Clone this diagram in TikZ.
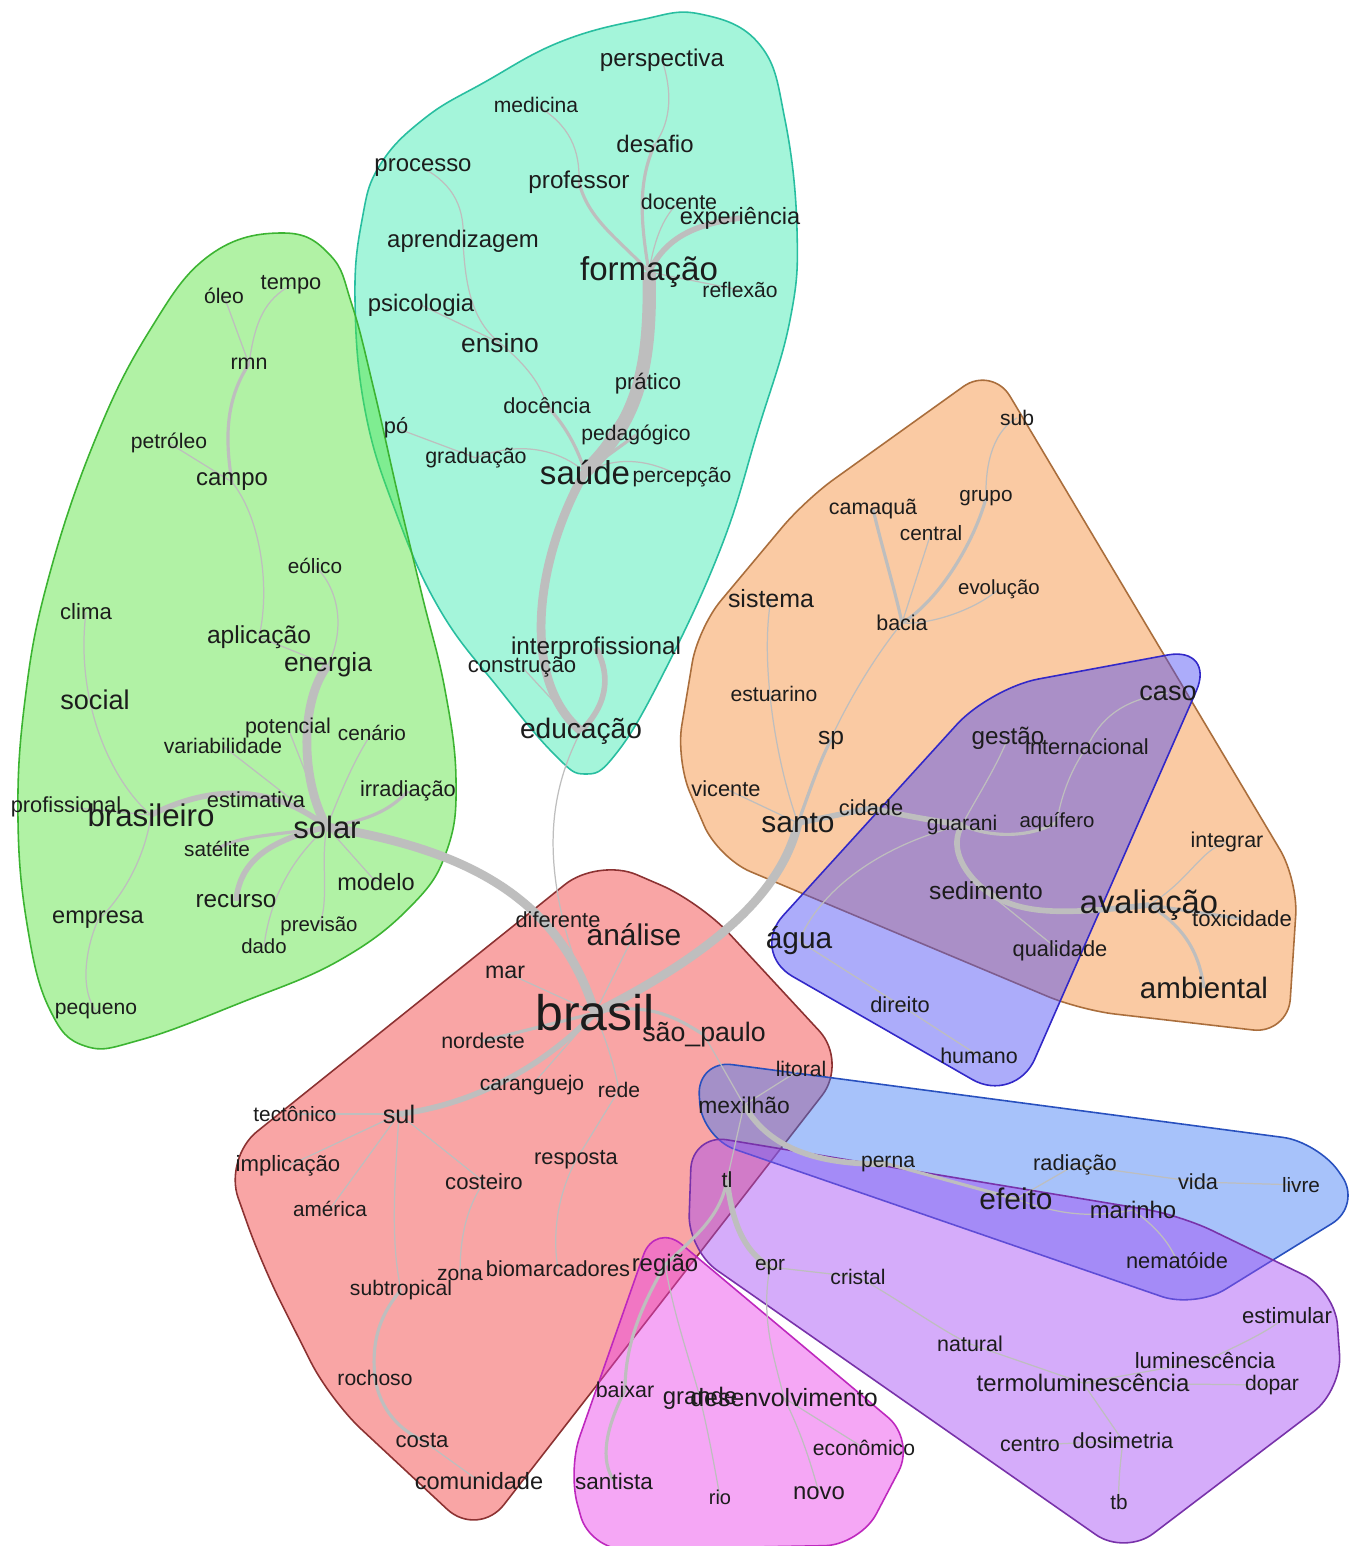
\documentclass[tikz,border=0pt]{standalone}
\usepackage{fontspec}
\setmainfont{Liberation Sans}
\definecolor{wordcol}{HTML}{1C1C1C}
\definecolor{edgecol}{HTML}{BEBEBE}
\definecolor{tealfill}{RGB}{55,233,173}
\definecolor{tealline}{RGB}{40,190,160}
\definecolor{greenfill}{RGB}{84,228,57}
\definecolor{greenline}{RGB}{60,180,50}
\definecolor{orangefill}{RGB}{244,139,53}
\definecolor{orangeline}{RGB}{170,110,60}
\definecolor{redfill}{RGB}{242,57,57}
\definecolor{redline}{RGB}{140,50,50}
\definecolor{aguafill}{RGB}{73,73,244}
\definecolor{agualine}{RGB}{50,40,200}
\definecolor{efeitofill}{RGB}{62,120,244}
\definecolor{efeitoline}{RGB}{40,80,190}
\definecolor{violetfill}{RGB}{162,73,244}
\definecolor{violetline}{RGB}{120,50,170}
\definecolor{magentafill}{RGB}{233,62,233}
\definecolor{magentaline}{RGB}{190,40,190}
\pgfdeclarelayer{hulls}
\pgfdeclarelayer{edges}
\pgfsetlayers{hulls,edges,main}

\begin{document}
\begin{tikzpicture}[x=0.01cm, y=-0.01cm,
    word/.style={font=\fontsize{#1pt}{#1pt}\selectfont, text=wordcol, inner sep=0pt},
    hull/.style={fill opacity=0.45, line width=0.45pt},
    roundhull/.style={hull, rounded corners=10pt},
    e1/.style={draw=edgecol, line width=0.35pt},
    e2/.style={draw=edgecol, line width=0.9pt},
    e3/.style={draw=edgecol, line width=1.6pt},
    e4/.style={draw=edgecol, line width=2.5pt},
    e5/.style={draw=edgecol, line width=3.8pt}]
    \useasboundingbox (0,0) rectangle (1354,1546);

    % Hulls
    \begin{pgfonlayer}{hulls}
        \fill[white] (0,0) rectangle (1354,1546);
        \draw[hull, fill=tealfill, draw=tealline] plot[smooth cycle, tension=0.7] coordinates {(700,14) (760,45) (785,120) (797,230) (790,320) (758,430) (720,550) (660,680) (615,755) (585,774) (555,755) (500,690) (440,610) (395,510) (365,410) (355,300) (362,220) (380,165) (425,118) (485,82) (560,42) (640,20)};
        \draw[hull, fill=greenfill, draw=greenline] plot[smooth cycle, tension=0.7] coordinates {(283,233) (330,255) (352,305) (374,390) (398,495) (422,595) (445,690) (456,780) (447,850) (412,905) (340,960) (240,1003) (140,1040) (85,1046) (50,1010) (28,930) (18,820) (25,700) (48,580) (95,440) (150,330) (210,255)};
        \draw[roundhull, fill=orangefill, draw=orangeline] (992,366) -- (1298,880) -- (1288,1034) -- (1080,1010) -- (718,858) -- (676,760) -- (698,628) -- (805,500) -- cycle;
        \draw[roundhull, fill=redfill, draw=redline, rounded corners=12pt] (598,858) -- (700,902) -- (848,1062) -- (478,1538) -- (330,1400) -- (262,1265) -- (224,1158) -- cycle;
        \draw[roundhull, fill=aguafill, draw=agualine, rounded corners=14pt] (750,952) -- (990,688) -- (1216,646) -- (1015,1104) -- cycle;
        \draw[roundhull, fill=efeitofill, draw=efeitoline] (697,1060) -- (1318,1142) -- (1362,1205) -- (1195,1308) -- (702,1138) -- cycle;
        \draw[roundhull, fill=violetfill, draw=violetline] (692,1134) -- (1180,1215) -- (1335,1290) -- (1342,1390) -- (1125,1555) -- (688,1250) -- cycle;
        \draw[roundhull, fill=magentafill, draw=magentaline] (655,1222) -- (915,1440) -- (860,1545) -- (590,1550) -- (568,1470) -- cycle;
    \end{pgfonlayer}

    % Formacao / saude
    \node[word=6.9] (perspectiva) at (662,60) {perspectiva};
    \node[word=6.0] (medicina) at (536,105) {medicina};
    \node[word=6.8] (desafio) at (655,144) {desafio};
    \node[word=6.8] (processo) at (423,168) {processo};
    \node[word=6.9] (professor) at (579,182) {professor};
    \node[word=6.1] (docente) at (679,202) {docente};
    \node[word=6.7] (experiencia) at (740,218) {experiência};
    \node[word=6.8] (aprendizagem) at (463,241) {aprendizagem};
    \node[word=9.4] (formacao) at (649,272) {formação};
    \node[word=6.0] (reflexao) at (740,290) {reflexão};
    \node[word=6.8] (psicologia) at (421,305) {psicologia};
    \node[word=7.5] (ensino) at (500,343) {ensino};
    \node[word=6.3] (pratico) at (648,384) {prático};
    \node[word=6.2] (docencia) at (547,406) {docência};
    \node[word=6.2] (po) at (396,428) {pó};
    \node[word=6.0] (pedagogico) at (636,435) {pedagógico};
    \node[word=6.1] (graduacao) at (476,458) {graduação};
    \node[word=9.4] (saude) at (585,472) {saúde};
    \node[word=6.0] (percepcao) at (682,477) {percepção};
    \node[word=6.9] (interprofissional) at (596,648) {interprofissional};
    \node[word=6.3] (construcao) at (522,667) {construção};
    \node[word=8.0] (educacao) at (581,731) {educação};

    % Solar
    \node[word=6.0] (oleo) at (224,296) {óleo};
    \node[word=6.2] (tempo) at (291,285) {tempo};
    \node[word=6.1] (rmn) at (249,364) {rmn};
    \node[word=6.0] (petroleo) at (169,443) {petróleo};
    \node[word=6.8] (campo) at (232,482) {campo};
    \node[word=5.9] (eolico) at (315,566) {eólico};
    \node[word=6.3] (clima) at (86,612) {clima};
    \node[word=7.0] (aplicacao) at (259,637) {aplicação};
    \node[word=7.5] (energia) at (328,665) {energia};
    \node[word=7.7] (social) at (95,700) {social};
    \node[word=6.1] (potencial) at (288,728) {potencial};
    \node[word=5.9] (cenario) at (372,733) {cenário};
    \node[word=6.0] (variabilidade) at (223,746) {variabilidade};
    \node[word=6.2] (irradiacao) at (408,791) {irradiação};
    \node[word=6.2] (estimativa) at (256,800) {estimativa};
    \node[word=6.2] (profissional) at (66,807) {profissional};
    \node[word=8.9] (brasileiro) at (151,815) {brasileiro};
    \node[word=8.8] (solar) at (327,827) {solar};
    \node[word=5.9] (satelite) at (217,849) {satélite};
    \node[word=6.7] (modelo) at (376,882) {modelo};
    \node[word=6.9] (recurso) at (236,901) {recurso};
    \node[word=6.7] (empresa) at (98,920) {empresa};
    \node[word=5.8] (previsao) at (319,926) {previsão};
    \node[word=5.8] (dado) at (264,946) {dado};
    \node[word=6.0] (pequeno) at (96,1011) {pequeno};

    % Santo / avaliacao
    \node[word=6.0] (sub) at (1017,418) {sub};
    \node[word=6.1] (camaqua) at (873,509) {camaquã};
    \node[word=5.9] (grupo) at (986,498) {grupo};
    \node[word=5.9] (central) at (931,533) {central};
    \node[word=5.8] (evolucao) at (999,589) {evolução};
    \node[word=7.1] (sistema) at (771,599) {sistema};
    \node[word=6.1] (bacia) at (902,623) {bacia};
    \node[word=6.0] (estuarino) at (774,694) {estuarino};
    \node[word=7.0] (sp) at (831,740) {sp};
    \node[word=6.2] (vicente) at (726,789) {vicente};
    \node[word=8.5] (santo) at (798,823) {santo};
    \node[word=6.2] (cidade) at (871,808) {cidade};
    \node[word=6.0] (guarani) at (962,825) {guarani};
    \node[word=5.8] (aquifero) at (1057,822) {aquífero};
    \node[word=6.1] (integrar) at (1227,842) {integrar};
    \node[word=7.0] (sedimento) at (986,891) {sedimento};
    \node[word=9.3] (avaliacao) at (1149,905) {avaliação};
    \node[word=6.3] (toxicidade) at (1242,919) {toxicidade};
    \node[word=6.2] (qualidade) at (1060,951) {qualidade};
    \node[word=8.4] (ambiental) at (1204,988) {ambiental};

    % Agua
    \node[word=7.7] (caso) at (1168,693) {caso};
    \node[word=6.9] (gestao) at (1008,738) {gestão};
    \node[word=6.2] (internacional) at (1087,747) {internacional};
    \node[word=8.5] (agua) at (799,941) {água};
    \node[word=6.2] (direito) at (900,1005) {direito};
    \node[word=6.1] (humano) at (979,1056) {humano};

    % Brasil
    \node[word=6.2] (diferente) at (558,920) {diferente};
    \node[word=8.5] (analise) at (634,935) {análise};
    \node[word=6.6] (mar) at (505,972) {mar};
    \node[word=14.2] (brasil) at (595,1013) {brasil};
    \node[word=6.1] (nordeste) at (483,1041) {nordeste};
    \node[word=7.6] (saopaulo) at (704,1035) {são\_paulo};
    \node[word=6.0] (caranguejo) at (532,1085) {caranguejo};
    \node[word=6.0] (rede) at (619,1090) {rede};
    \node[word=5.9] (tectonico) at (295,1114) {tectônico};
    \node[word=7.2] (sul) at (399,1114) {sul};
    \node[word=6.3] (implicacao) at (288,1166) {implicação};
    \node[word=6.2] (resposta) at (576,1160) {resposta};
    \node[word=6.3] (costeiro) at (484,1182) {costeiro};
    \node[word=5.9] (america) at (330,1209) {américa};
    \node[word=6.0] (zona) at (460,1275) {zona};
    \node[word=6.2] (biomarcadores) at (558,1269) {biomarcadores};
    \node[word=6.0] (subtropical) at (401,1290) {subtropical};
    \node[word=6.0] (rochoso) at (375,1378) {rochoso};
    \node[word=6.3] (costa) at (422,1440) {costa};
    \node[word=6.7] (comunidade) at (479,1481) {comunidade};

    % Efeito
    \node[word=6.0] (litoral) at (801,1069) {litoral};
    \node[word=6.5] (mexilhao) at (744,1105) {mexilhão};
    \node[word=6.0] (perna) at (888,1164) {perna};
    \node[word=6.2] (radiacao) at (1075,1165) {radiação};
    \node[word=6.2] (vida) at (1198,1182) {vida};
    \node[word=5.9] (livre) at (1301,1185) {livre};
    \node[word=8.5] (efeito) at (1016,1199) {efeito};
    \node[word=6.8] (marinho) at (1133,1210) {marinho};
    \node[word=6.2] (nematoide) at (1177,1261) {nematóide};

    % Termoluminescencia
    \node[word=6.2] (tl) at (727,1180) {tl};
    \node[word=5.9] (epr) at (770,1267) {epr};
    \node[word=6.0] (cristal) at (858,1277) {cristal};
    \node[word=6.3] (estimular) at (1287,1316) {estimular};
    \node[word=6.1] (natural) at (970,1344) {natural};
    \node[word=6.3] (luminescencia) at (1205,1361) {luminescência};
    \node[word=6.8] (termoluminescencia) at (1083,1383) {termoluminescência};
    \node[word=6.0] (dopar) at (1272,1385) {dopar};
    \node[word=6.1] (centro) at (1030,1445) {centro};
    \node[word=6.2] (dosimetria) at (1123,1441) {dosimetria};
    \node[word=5.9] (tb) at (1119,1502) {tb};

    % Regiao
    \node[word=6.8] (regiao) at (665,1265) {região};
    \node[word=6.1] (baixar) at (625,1390) {baixar};
    \node[word=6.8] (grande) at (700,1398) {grande};
    \node[word=7.1] (desenvolvimento) at (784,1398) {desenvolvimento};
    \node[word=6.0] (economico) at (864,1448) {econômico};
    \node[word=6.4] (santista) at (614,1481) {santista};
    \node[word=5.7] (rio) at (720,1497) {rio};
    \node[word=6.8] (novo) at (819,1493) {novo};

    % Edges
    \begin{pgfonlayer}{edges}
        \draw[e5] (formacao.center) .. controls (652,380) and (632,425) .. (saude.center);
        \draw[e4] (saude.center) .. controls (535,560) and (520,680) .. (educacao.center);
        \draw[e3] (educacao.center) .. controls (612,700) and (608,670) .. (interprofissional.center);
        \draw[e1] (educacao.center) -- (construcao.center);
        \draw[e1] (educacao.center) .. controls (545,800) and (538,880) .. (brasil.center);
        \draw[e3] (formacao.center) .. controls (665,240) and (690,225) .. (experiencia.center);
        \draw[e1] (formacao.center) .. controls (655,235) and (665,215) .. (docente.center);
        \draw[e2] (formacao.center) .. controls (640,220) and (638,180) .. (desafio.center);
        \draw[e1] (desafio.center) .. controls (672,120) and (672,90) .. (perspectiva.center);
        \draw[e2] (formacao.center) .. controls (620,240) and (588,220) .. (professor.center);
        \draw[e1] (professor.center) .. controls (580,150) and (570,125) .. (medicina.center);
        \draw[e1] (formacao.center) -- (reflexao.center);
        \draw[e2] (saude.center) -- (pedagogico.center);
        \draw[e1] (saude.center) .. controls (610,430) and (630,400) .. (pratico.center);
        \draw[e2] (saude.center) .. controls (575,440) and (560,420) .. (docencia.center);
        \draw[e1] (docencia.center) .. controls (540,380) and (520,360) .. (ensino.center);
        \draw[e1] (ensino.center) -- (psicologia.center);
        \draw[e1] (ensino.center) .. controls (470,320) and (465,280) .. (aprendizagem.center);
        \draw[e1] (aprendizagem.center) .. controls (465,210) and (455,185) .. (processo.center);
        \draw[e1] (saude.center) .. controls (560,450) and (520,440) .. (graduacao.center);
        \draw[e1] (graduacao.center) -- (po.center);
        \draw[e1] (saude.center) .. controls (620,455) and (650,460) .. (percepcao.center);

        \draw[e4] (solar.center) .. controls (470,850) and (560,900) .. (brasil.center);
        \draw[e4] (solar.center) .. controls (300,780) and (300,700) .. (energia.center);
        \draw[e3] (solar.center) .. controls (280,790) and (220,780) .. (brasileiro.center);
        \draw[e3] (solar.center) .. controls (270,840) and (240,860) .. (recurso.center);
        \draw[e2] (solar.center) .. controls (280,835) and (240,835) .. (satelite.center);
        \draw[e2] (solar.center) .. controls (370,820) and (390,810) .. (irradiacao.center);
        \draw[e1] (solar.center) -- (modelo.center);
        \draw[e1] (solar.center) .. controls (320,860) and (330,900) .. (previsao.center);
        \draw[e1] (solar.center) .. controls (290,860) and (270,900) .. (dado.center);
        \draw[e1] (solar.center) -- (potencial.center);
        \draw[e1] (solar.center) .. controls (345,780) and (360,750) .. (cenario.center);
        \draw[e1] (solar.center) -- (variabilidade.center);
        \draw[e1] (energia.center) .. controls (345,630) and (340,590) .. (eolico.center);
        \draw[e1] (energia.center) -- (aplicacao.center);
        \draw[e1] (aplicacao.center) .. controls (270,590) and (262,520) .. (campo.center);
        \draw[e2] (campo.center) .. controls (225,440) and (225,400) .. (rmn.center);
        \draw[e1] (rmn.center) -- (oleo.center);
        \draw[e1] (rmn.center) .. controls (255,320) and (265,300) .. (tempo.center);
        \draw[e1] (campo.center) -- (petroleo.center);
        \draw[e1] (brasileiro.center) .. controls (110,780) and (75,700) .. (clima.center);
        \draw[e1] (brasileiro.center) .. controls (145,860) and (120,900) .. (empresa.center);
        \draw[e1] (empresa.center) .. controls (85,950) and (80,990) .. (pequeno.center);
        \draw[e1] (brasileiro.center) -- (profissional.center);

        \draw[e4] (brasil.center) .. controls (700,960) and (780,900) .. (santo.center);
        \draw[e3] (brasil.center) .. controls (540,1070) and (470,1105) .. (sul.center);
        \draw[e2] (brasil.center) -- (nordeste.center);
        \draw[e2] (brasil.center) .. controls (650,1000) and (680,1020) .. (saopaulo.center);
        \draw[e1] (brasil.center) -- (caranguejo.center);
        \draw[e1] (brasil.center) -- (mar.center);
        \draw[e1] (brasil.center) -- (analise.center);
        \draw[e1] (brasil.center) .. controls (610,1050) and (615,1070) .. (rede.center);
        \draw[e1] (rede.center) -- (resposta.center);
        \draw[e1] (resposta.center) .. controls (555,1200) and (553,1240) .. (biomarcadores.center);
        \draw[e1] (sul.center) -- (tectonico.center);
        \draw[e1] (sul.center) -- (implicacao.center);
        \draw[e1] (sul.center) -- (america.center);
        \draw[e1] (sul.center) .. controls (395,1180) and (390,1240) .. (subtropical.center);
        \draw[e2] (subtropical.center) .. controls (375,1320) and (372,1350) .. (rochoso.center);
        \draw[e2] (rochoso.center) .. controls (380,1410) and (400,1430) .. (costa.center);
        \draw[e1] (costa.center) -- (comunidade.center);
        \draw[e1] (sul.center) -- (costeiro.center);
        \draw[e1] (costeiro.center) .. controls (465,1210) and (460,1240) .. (zona.center);
        \draw[e1] (saopaulo.center) -- (mexilhao.center);

        \draw[e3] (mexilhao.center) .. controls (770,1150) and (820,1165) .. (perna.center);
        \draw[e1] (mexilhao.center) -- (litoral.center);
        \draw[e1] (mexilhao.center) -- (tl.center);
        \draw[e2] (perna.center) -- (efeito.center);
        \draw[e1] (efeito.center) .. controls (1060,1215) and (1090,1218) .. (marinho.center);
        \draw[e1] (marinho.center) .. controls (1160,1230) and (1170,1245) .. (nematoide.center);
        \draw[e1] (efeito.center) -- (radiacao.center);
        \draw[e1] (radiacao.center) -- (vida.center);
        \draw[e1] (vida.center) -- (livre.center);

        \draw[e3] (tl.center) .. controls (732,1220) and (742,1250) .. (epr.center);
        \draw[e1] (epr.center) -- (cristal.center);
        \draw[e1] (cristal.center) .. controls (900,1300) and (940,1330) .. (natural.center);
        \draw[e1] (natural.center) -- (termoluminescencia.center);
        \draw[e1] (termoluminescencia.center) -- (luminescencia.center);
        \draw[e1] (luminescencia.center) .. controls (1250,1340) and (1270,1330) .. (estimular.center);
        \draw[e1] (termoluminescencia.center) -- (dopar.center);
        \draw[e1] (termoluminescencia.center) -- (dosimetria.center);
        \draw[e1] (dosimetria.center) -- (centro.center);
        \draw[e1] (dosimetria.center) .. controls (1120,1465) and (1118,1485) .. (tb.center);

        \draw[e2] (regiao.center) .. controls (690,1240) and (720,1220) .. (tl.center);
        \draw[e2] (regiao.center) .. controls (645,1300) and (625,1340) .. (baixar.center);
        \draw[e2] (baixar.center) .. controls (605,1430) and (600,1460) .. (santista.center);
        \draw[e1] (regiao.center) .. controls (675,1320) and (690,1360) .. (grande.center);
        \draw[e1] (grande.center) .. controls (710,1440) and (715,1470) .. (rio.center);
        \draw[e1] (epr.center) .. controls (760,1320) and (775,1360) .. (desenvolvimento.center);
        \draw[e1] (desenvolvimento.center) .. controls (800,1430) and (810,1460) .. (novo.center);
        \draw[e1] (desenvolvimento.center) -- (economico.center);

        \draw[e3] (santo.center) -- (cidade.center);
        \draw[e3] (cidade.center) .. controls (900,815) and (930,820) .. (guarani.center);
        \draw[e3] (guarani.center) .. controls (950,845) and (960,870) .. (sedimento.center);
        \draw[e3] (sedimento.center) .. controls (1020,915) and (1060,915) .. (avaliacao.center);
        \draw[e2] (guarani.center) .. controls (990,838) and (1030,838) .. (aquifero.center);
        \draw[e1] (aquifero.center) .. controls (1060,800) and (1070,770) .. (internacional.center);
        \draw[e1] (internacional.center) .. controls (1100,720) and (1120,700) .. (caso.center);
        \draw[e1] (guarani.center) .. controls (975,800) and (995,770) .. (gestao.center);
        \draw[e2] (santo.center) .. controls (810,790) and (820,760) .. (sp.center);
        \draw[e1] (santo.center) .. controls (775,760) and (760,660) .. (sistema.center);
        \draw[e1] (santo.center) -- (vicente.center);
        \draw[e1] (santo.center) .. controls (830,720) and (880,650) .. (bacia.center);
        \draw[e2] (bacia.center) .. controls (940,600) and (975,540) .. (grupo.center);
        \draw[e1] (grupo.center) .. controls (985,460) and (995,430) .. (sub.center);
        \draw[e2] (bacia.center) .. controls (895,590) and (880,540) .. (camaqua.center);
        \draw[e1] (bacia.center) -- (central.center);
        \draw[e1] (bacia.center) .. controls (930,625) and (975,610) .. (evolucao.center);
        \draw[e1] (sedimento.center) -- (qualidade.center);
        \draw[e1] (guarani.center) .. controls (880,845) and (820,890) .. (agua.center);
        \draw[e1] (agua.center) -- (direito.center);
        \draw[e1] (direito.center) -- (humano.center);
        \draw[e2] (avaliacao.center) -- (toxicidade.center);
        \draw[e2] (avaliacao.center) .. controls (1190,930) and (1200,960) .. (ambiental.center);
        \draw[e1] (avaliacao.center) .. controls (1190,880) and (1200,850) .. (integrar.center);
    \end{pgfonlayer}
\end{tikzpicture}
\end{document}
